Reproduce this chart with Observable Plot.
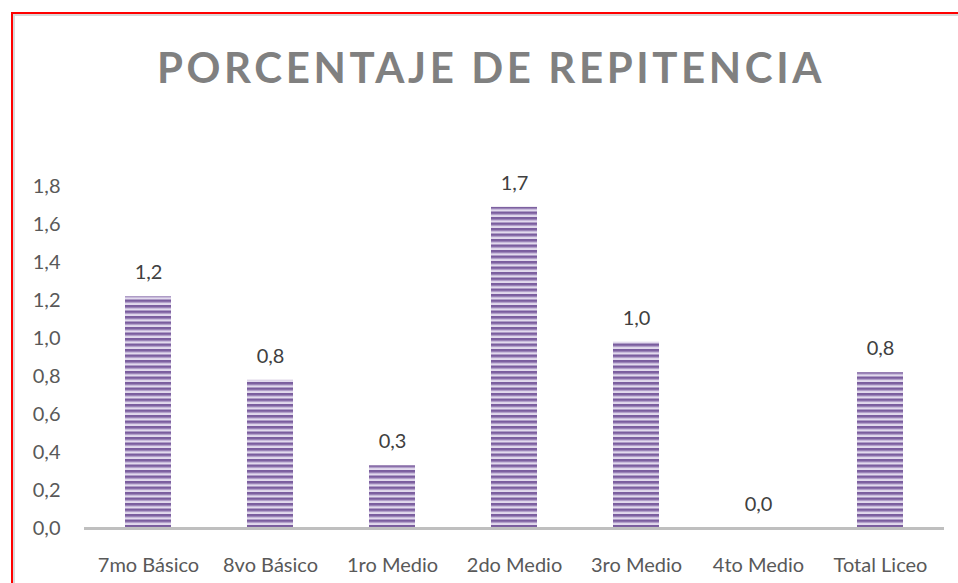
<!DOCTYPE html>
<html>
<head>
<meta charset="utf-8">
<script src="https://cdn.jsdelivr.net/npm/d3@7"></script>
<script src="https://cdn.jsdelivr.net/npm/@observablehq/plot@0.6"></script>
<style>
  html, body { margin: 0; padding: 0; background: #fff; width: 958px; height: 583px; overflow: hidden; }
  .frame { position: absolute; left: 11px; top: 12px; width: 1000px; height: 700px;
           border-left: 2px solid #ff0000; border-top: 2px solid #ff0000;
           box-shadow: inset 2px 2px 0 #d9d9d9; }
  #wrap { position: absolute; left: 0; top: 0; width: 958px; }
  #title { height: 140px; box-sizing: border-box; padding-top: 42px; text-align: center;
           font-family: Lato, "Open Sans", sans-serif; font-weight: 700; font-size: 42px;
           letter-spacing: 3.6px; color: #808080; line-height: 50px; padding-left: 24px; }
  svg { display: block; }
</style>
</head>
<body>
<div class="frame"></div>
<div id="wrap">
  <div id="title">PORCENTAJE DE REPITENCIA</div>
  <div id="chart"></div>
</div>
<script>
const categories = ["7mo Básico", "8vo Básico", "1ro Medio", "2do Medio", "3ro Medio", "4to Medio", "Total Liceo"];
const values = [1.22, 0.78, 0.33, 1.69, 0.98, 0.0, 0.82];
const yTicks = [0, 0.2, 0.4, 0.6, 0.8, 1.0, 1.2, 1.4, 1.6, 1.8];

const data = categories.map((c, i) => ({category: c, value: values[i]}));
const fmt = v => v.toFixed(1).replace(".", ",");

const chart = Plot.plot({
  width: 958,
  height: 443,
  marginLeft: 84,
  marginRight: 14,
  marginTop: 46,
  marginBottom: 55,
  style: {fontFamily: "Lato, 'Open Sans', sans-serif", fontSize: "20px", color: "#595959", background: "transparent"},
  x: {domain: categories, paddingInner: 0.625, paddingOuter: 0.3125, label: null, tickSize: 0, tickPadding: 29},
  y: {domain: [0, 1.8], ticks: yTicks, tickFormat: fmt, label: null, tickSize: 0, tickPadding: 24},
  marks: [
    Plot.barY(data, {x: "category", y: "value", fill: "url(#stripes)"}),
    Plot.ruleY([0], {stroke: "#bfbfbf", strokeWidth: 3}),
    Plot.text(data, {x: "category", y: "value", text: d => fmt(d.value), dy: -24, fill: "#404040", fontSize: 20})
  ]
});

const ns = "http://www.w3.org/2000/svg";
const defs = document.createElementNS(ns, "defs");
defs.innerHTML = `
  <pattern id="stripes" patternUnits="userSpaceOnUse" x="0" y="0" width="20" height="5.5">
    <rect x="0" y="0" width="20" height="5.5" fill="#e2daed"/>
    <rect x="0" y="0" width="20" height="2.6" fill="#7a5d9e"/>
    <rect x="0" y="2.6" width="20" height="0.8" fill="#ad9ac8"/>
  </pattern>`;
chart.insertBefore(defs, chart.firstChild);
document.getElementById("chart").appendChild(chart);
</script>
</body>
</html>
